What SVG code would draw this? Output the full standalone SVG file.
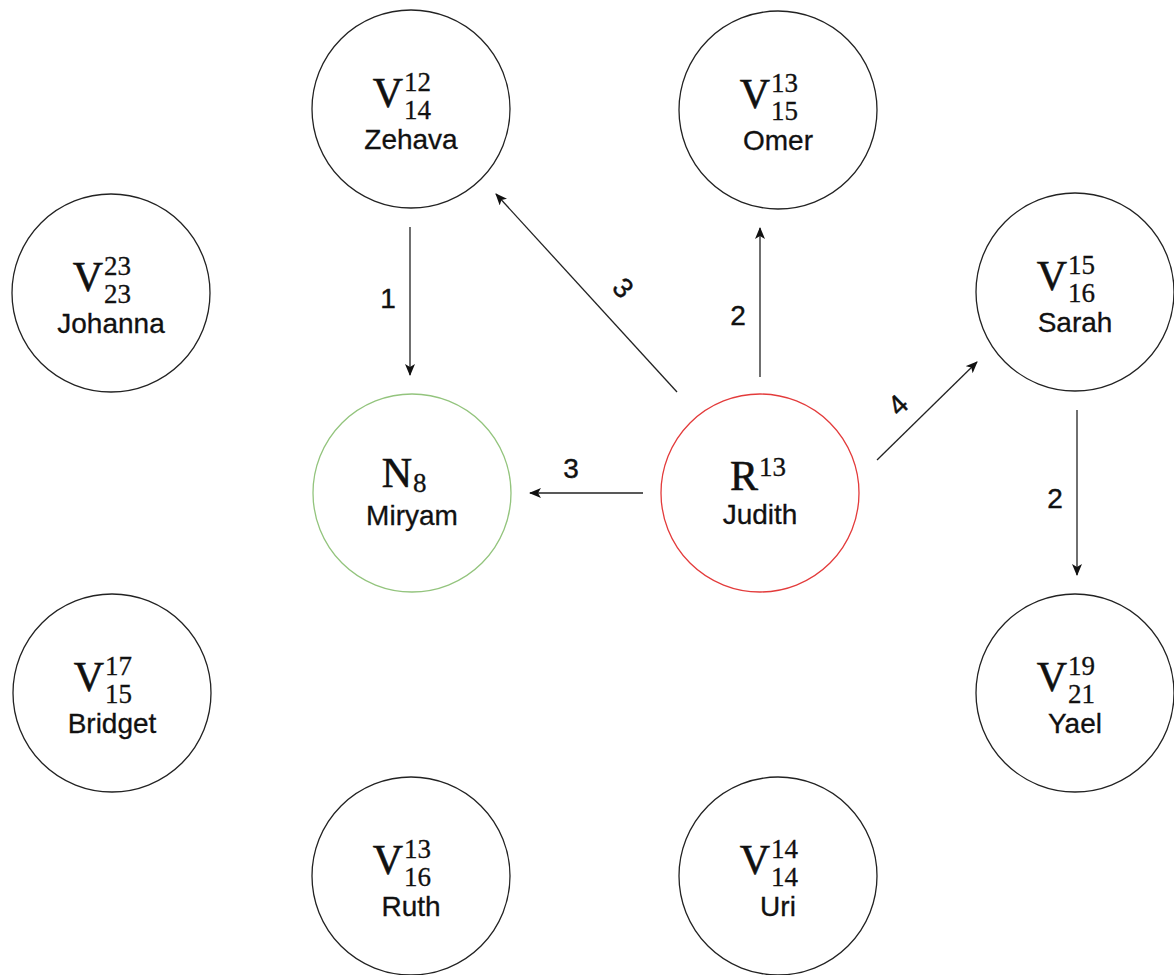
<svg xmlns="http://www.w3.org/2000/svg" width="1174" height="975" viewBox="0 0 1174 975">
<style>
.n{fill:#fff;stroke:#222;stroke-width:1.3}
.g{stroke:#93c47d}
.r{stroke:#e33b3b}
.vl{font-family:"Liberation Serif","Times New Roman",serif;font-size:42px;fill:#111;stroke:#111;stroke-width:0.6;text-anchor:end}
.sc{font-family:"Liberation Serif","Times New Roman",serif;font-size:27px;fill:#111;stroke:#111;stroke-width:0.3}
.nm{font-family:"Liberation Sans",Arial,sans-serif;font-size:28px;fill:#111;stroke:#111;stroke-width:0.3;text-anchor:middle}
.el{font-family:"Liberation Sans",Arial,sans-serif;font-size:28px;fill:#111;stroke:#111;stroke-width:0.4;text-anchor:middle}
.c{stroke:#222;stroke-width:1.3;fill:none;marker-end:url(#ah)}
</style>
<defs>
<marker id="ah" markerWidth="12" markerHeight="10" refX="11" refY="5" orient="auto" markerUnits="userSpaceOnUse">
<path d="M0,0 L12,5 L0,10 L3,5 z" fill="#111"/>
</marker>
</defs>
<rect width="1174" height="975" fill="#fff"/>
<g id="connectors">
<line class="c" x1="410" y1="227" x2="410" y2="375"/>
<line class="c" x1="677" y1="392" x2="496" y2="194"/>
<line class="c" x1="760" y1="377" x2="760" y2="228"/>
<line class="c" x1="877" y1="460" x2="977" y2="362"/>
<line class="c" x1="643" y1="493" x2="530" y2="493"/>
<line class="c" x1="1077" y1="410" x2="1077" y2="575"/>
<text class="el" x="388" y="308">1</text>
<text class="el" x="623" y="288" dominant-baseline="central" transform="rotate(47 623 288)">3</text>
<text class="el" x="738" y="325">2</text>
<text class="el" x="898" y="405" dominant-baseline="central" transform="rotate(-44 898 405)">4</text>
<text class="el" x="571" y="478">3</text>
<text class="el" x="1055" y="508">2</text>
</g>
<g id="zehava">
<circle class="n" cx="411" cy="109" r="99"/>
<text class="vl" x="403" y="107">V</text>
<text class="sc" x="404" y="91">12</text>
<text class="sc" x="404" y="119">14</text>
<text class="nm" x="411" y="149">Zehava</text>
</g>
<g id="omer">
<circle class="n" cx="778" cy="110" r="99"/>
<text class="vl" x="770" y="108">V</text>
<text class="sc" x="771" y="92">13</text>
<text class="sc" x="771" y="120">15</text>
<text class="nm" x="778" y="150">Omer</text>
</g>
<g id="johanna">
<circle class="n" cx="111" cy="293" r="99"/>
<text class="vl" x="103" y="291">V</text>
<text class="sc" x="104" y="275">23</text>
<text class="sc" x="104" y="303">23</text>
<text class="nm" x="111" y="333">Johanna</text>
</g>
<g id="sarah">
<circle class="n" cx="1075" cy="292" r="99"/>
<text class="vl" x="1067" y="290">V</text>
<text class="sc" x="1068" y="274">15</text>
<text class="sc" x="1068" y="302">16</text>
<text class="nm" x="1075" y="332">Sarah</text>
</g>
<g id="miryam">
<circle class="n g" cx="412" cy="493" r="99"/>
<text class="vl" x="412" y="487">N</text>
<text class="sc" x="413" y="492">8</text>
<text class="nm" x="412" y="525">Miryam</text>
</g>
<g id="judith">
<circle class="n r" cx="760" cy="493" r="99"/>
<text class="vl" x="758" y="490">R</text>
<text class="sc" x="759" y="476">13</text>
<text class="nm" x="760" y="524">Judith</text>
</g>
<g id="bridget">
<circle class="n" cx="112" cy="693" r="99"/>
<text class="vl" x="104" y="691">V</text>
<text class="sc" x="105" y="675">17</text>
<text class="sc" x="105" y="703">15</text>
<text class="nm" x="112" y="733">Bridget</text>
</g>
<g id="yael">
<circle class="n" cx="1075" cy="693" r="99"/>
<text class="vl" x="1067" y="691">V</text>
<text class="sc" x="1068" y="675">19</text>
<text class="sc" x="1068" y="703">21</text>
<text class="nm" x="1075" y="733">Yael</text>
</g>
<g id="ruth">
<circle class="n" cx="411" cy="876" r="99"/>
<text class="vl" x="403" y="874">V</text>
<text class="sc" x="404" y="858">13</text>
<text class="sc" x="404" y="886">16</text>
<text class="nm" x="411" y="916">Ruth</text>
</g>
<g id="uri">
<circle class="n" cx="778" cy="876" r="99"/>
<text class="vl" x="770" y="874">V</text>
<text class="sc" x="771" y="858">14</text>
<text class="sc" x="771" y="886">14</text>
<text class="nm" x="778" y="916">Uri</text>
</g>
</svg>
